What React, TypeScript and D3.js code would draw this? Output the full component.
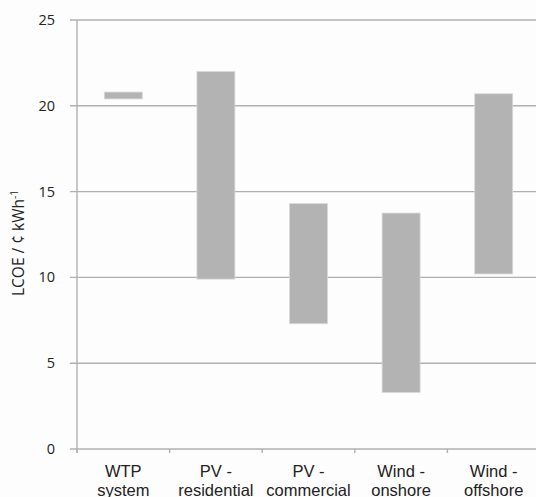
import React from 'react';
import * as d3 from 'd3';

const categories = ['WTP|system', 'PV -|residential', 'PV -|commercial', 'Wind -|onshore', 'Wind -|offshore'];
const lowValues = [20.4, 9.9, 7.3, 3.3, 10.2];
const highValues = [20.8, 22.0, 14.3, 13.75, 20.7];
const yTicks = [0, 5, 10, 15, 20, 25];

const width = 536;
const height = 497;
const margin = { top: 20, right: -4, bottom: 48, left: 77 };

export default function App() {
  const innerW = width - margin.left - margin.right;
  const innerH = height - margin.top - margin.bottom;

  const x = d3.scaleBand<string>()
    .domain(categories)
    .range([0, innerW])
    .paddingInner(0.59)
    .paddingOuter(0.295);
  const step = x.step();

  const y = d3.scaleLinear().domain([0, 25]).range([innerH, 0]);

  const gridColor = '#b0b0b0';

  return (
    <svg width={width} height={height} style={{ position: 'absolute', left: 0, top: 0, background: '#fdfdfd' }}>
      <g transform={`translate(${margin.left},${margin.top})`}>
        {/* gridlines + y ticks */}
        {yTicks.map(t => (
          <g key={t}>
            <line x1={-7} x2={innerW} y1={y(t)} y2={y(t)} stroke={gridColor} strokeWidth={1.4} />
            <text x={-22} y={y(t)} dy="0.35em" textAnchor="end" fontFamily="'Open Sans', sans-serif" fontSize={14.5} fill="#222">
              {t}
            </text>
          </g>
        ))}
        {/* y axis */}
        <line x1={0} x2={0} y1={0} y2={innerH + 4} stroke={gridColor} strokeWidth={1.4} />
        {/* x category ticks */}
        {d3.range(categories.length + 1).map(i => (
          <line key={i} x1={i * step} x2={i * step} y1={innerH} y2={innerH + 4} stroke={gridColor} strokeWidth={1.4} />
        ))}
        {/* range bars */}
        {categories.map((c, i) => (
          <rect
            key={c}
            x={x(c)}
            width={x.bandwidth()}
            y={y(highValues[i])}
            height={y(lowValues[i]) - y(highValues[i])}
            fill="#b3b3b3"
            stroke="#d8d8d8"
            strokeWidth={0.8}
          />
        ))}
        {/* x labels */}
        {categories.map(c => {
          const [l1, l2] = c.split('|');
          const cx = (x(c) ?? 0) + x.bandwidth() / 2;
          return (
            <text key={c} textAnchor="middle" fontFamily="'Liberation Sans', Arial, sans-serif" fontSize={16.5} fill="#222">
              <tspan x={cx} y={innerH + 28}>{l1}</tspan>
              <tspan x={cx} y={innerH + 47}>{l2}</tspan>
            </text>
          );
        })}
      </g>
      {/* y title */}
      <text
        transform={`translate(24,${margin.top + 223}) rotate(-90)`}
        textAnchor="middle"
        fontFamily="'Open Sans', sans-serif"
        fontSize={15.5}
        fill="#222"
      >
        LCOE / ¢ kWh<tspan dy="-6" fontSize={10}>-1</tspan>
      </text>
    </svg>
  );
}
